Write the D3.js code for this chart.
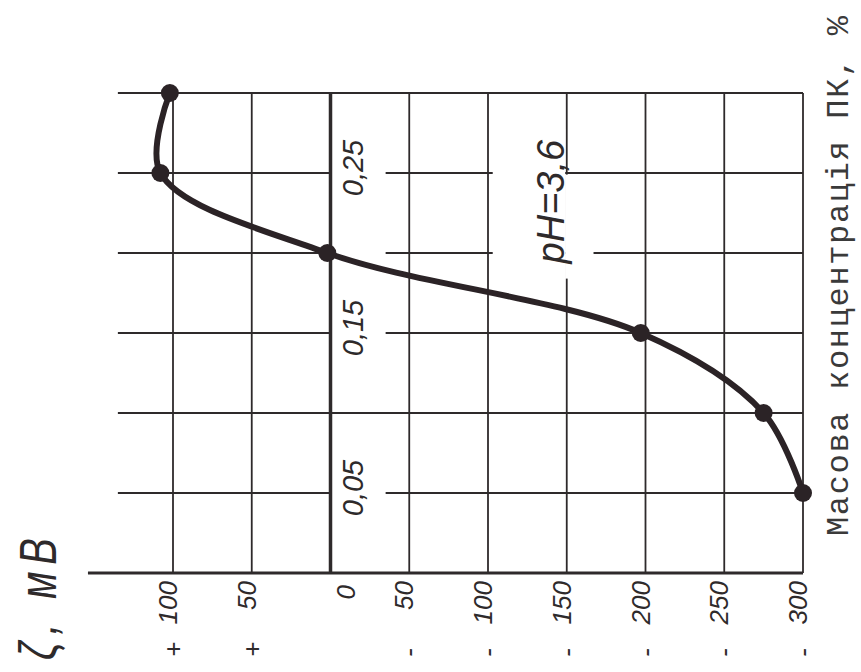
<!DOCTYPE html>
<html>
<head>
<meta charset="utf-8">
<script src="https://cdn.jsdelivr.net/npm/d3@7"></script>
<style>
  body { margin: 0; background: #fff; }
</style>
</head>
<body>
<div id="chart"></div>
<script>
// data (chart is drawn rotated: zeta runs left->right, concentration bottom->top)
const conc = [0.05, 0.10, 0.15, 0.20, 0.25, 0.30];
const zeta = [-300, -275, -197, 2, 108, 102];

const zetaTicks = [100, 50, 0, -50, -100, -150, -200, -250, -300];
const zetaTickLabels = ["+ 100", "+ 50", "0", "- 50", "- 100", "- 150", "- 200", "- 250", "- 300"];
const concTicks = [0.05, 0.10, 0.15, 0.20, 0.25, 0.30];
const concLabelTicks = [0.05, 0.15, 0.25];
const concLabels = ["0,05", "0,15", "0,25"];
const gapTicks = [0.05, 0.15, 0.20, 0.25];

const W = 861, H = 672;
const ink = "#2e2a2b";
const hand = "'Liberation Sans', 'DejaVu Sans', sans-serif";

const svg = d3.select("#chart")
  .append("svg")
    .attr("width", W)
    .attr("height", H);

const x = d3.scaleLinear().domain([100, -300]).range([173, 803]);
const y = d3.scaleLinear().domain([0, 0.30]).range([573, 93]);

// vertical grid lines (one per zeta tick)
svg.append("g")
  .selectAll("line")
  .data(zetaTicks)
  .join("line")
    .attr("x1", d => x(d))
    .attr("x2", d => x(d))
    .attr("y1", y(0.30))
    .attr("y2", y(0))
    .attr("stroke", ink)
    .attr("stroke-width", d => d === 0 ? 3.5 : 1.8);

// horizontal grid lines, some broken next to the zero line for the labels
const hSegs = [];
concTicks.forEach(c => {
  if (gapTicks.includes(c)) {
    hSegs.push({c: c, a: 135, b: 0});
    hSegs.push({c: c, a: -35, b: -300});
  } else {
    hSegs.push({c: c, a: 135, b: -300});
  }
});
svg.append("g")
  .selectAll("line")
  .data(hSegs)
  .join("line")
    .attr("x1", d => x(d.a))
    .attr("x2", d => x(d.b))
    .attr("y1", d => y(d.c))
    .attr("y2", d => y(d.c))
    .attr("stroke", ink)
    .attr("stroke-width", 1.8);

// bottom axis line
svg.append("line")
  .attr("x1", x(154)).attr("x2", x(-300))
  .attr("y1", y(0)).attr("y2", y(0))
  .attr("stroke", ink)
  .attr("stroke-width", 3);

// blank patch behind the pH note
svg.append("rect")
  .attr("x", x(-103)).attr("y", y(0.2775))
  .attr("width", x(-149) - x(-103)).attr("height", y(0.184) - y(0.2775))
  .attr("fill", "#fff");
svg.append("rect")
  .attr("x", x(-149)).attr("y", y(0.249))
  .attr("width", x(-167) - x(-149)).attr("height", y(0.184) - y(0.249))
  .attr("fill", "#fff");

// zeta tick labels, rotated: digits near the axis, sign further down
const tickG = svg.append("g")
  .selectAll("g")
  .data(zetaTicks)
  .join("g")
    .attr("font-family", hand)
    .attr("font-style", "italic")
    .attr("font-size", 26)
    .attr("fill", ink);

tickG.append("text")
  .attr("transform", d => `translate(${x(d) + (d === 0 ? 24 : 4)},${y(0) + (d === 0 ? 12 : 8)}) rotate(-90)`)
  .attr("text-anchor", "end")
  .text((d, i) => zetaTickLabels[i].split(" ").pop());

tickG.append("text")
  .attr("transform", d => `translate(${x(d) + 9},${y(0) + 84}) rotate(-90)`)
  .attr("text-anchor", "start")
  .text((d, i) => zetaTickLabels[i].includes(" ") ? zetaTickLabels[i].split(" ")[0] : "");

// concentration labels along the zero line
svg.append("g")
  .selectAll("text")
  .data(concLabelTicks)
  .join("text")
    .attr("transform", d => `translate(${x(0) + 22},${y(d) - 5}) rotate(-90)`)
    .attr("text-anchor", "middle")
    .attr("dy", "0.35em")
    .attr("font-family", hand)
    .attr("font-style", "italic")
    .attr("font-size", 29)
    .attr("fill", ink)
    .text((d, i) => concLabels[i]);

// pH note
svg.append("text")
  .attr("transform", `translate(${x(-150) - 3},${y(0.1935)}) rotate(-90)`)
  .attr("text-anchor", "start")
  .attr("font-family", hand)
  .attr("font-style", "italic")
  .attr("font-size", 38)
  .attr("fill", ink)
  .text("pH=3,6");

// curve + points
const pts = conc.map((c, i) => ({c: c, z: zeta[i]}));
const line = d3.line()
  .x(d => x(d.z))
  .y(d => y(d.c))
  .curve(d3.curveCatmullRom.alpha(0.5));

svg.append("path")
  .datum(pts)
  .attr("d", line)
  .attr("fill", "none")
  .attr("stroke", "#2b2326")
  .attr("stroke-width", 6)
  .attr("stroke-linecap", "round")
  .attr("stroke-linejoin", "round");

svg.append("g")
  .selectAll("circle")
  .data(pts)
  .join("circle")
    .attr("cx", d => x(d.z))
    .attr("cy", d => y(d.c))
    .attr("r", 9)
    .attr("fill", "#2b2326");

// axis titles
svg.append("text")
  .attr("transform", "translate(56,660) rotate(-90) scale(1,1.3)")
  .attr("font-family", hand)
  .attr("font-style", "italic")
  .attr("font-size", 40)
  .attr("fill", ink)
  .attr("textLength", 122)
  .attr("lengthAdjust", "spacing")
  .text("ζ, мВ");

svg.append("text")
  .attr("transform", "translate(848,536) rotate(-90)")
  .attr("font-family", "'Liberation Mono', 'DejaVu Sans Mono', monospace")
  .attr("font-size", 32)
  .attr("fill", "#3a3a3a")
  .attr("textLength", 520)
  .attr("lengthAdjust", "spacing")
  .text("Масова концентрація ПК, %");
</script>
</body>
</html>
